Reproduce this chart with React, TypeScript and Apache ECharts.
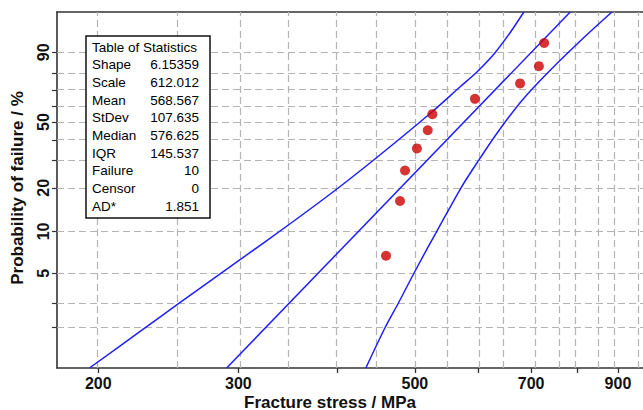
import React, { useEffect, useRef } from 'react';
import * as echarts from 'echarts';

// ---- data ----
const stressMPa = [460, 479, 486, 503, 519, 526, 595, 678, 716, 727];
const failurePct = [6.7, 16.3, 26.0, 35.6, 45.2, 54.8, 64.4, 74.0, 83.7, 93.3];

const fitStress = [290, 784];
const fitPct = [1, 99];

const upperStress = [195, 226.9, 251, 277.8, 301.2, 350.2, 399, 451.9, 525.3, 569.6, 598.4, 630.3, 658.3, 685.5];
const upperPct = [1, 1.91, 2.93, 4.47, 6.25, 11.57, 19.66, 32.49, 56.12, 71.82, 80.6, 89.71, 95.96, 99];

const lowerStress = [433.9, 458.5, 476.8, 495.1, 517, 532.2, 571.3, 598.4, 635.8, 682.6, 736.1, 814.4, 884.5];
const lowerPct = [1, 1.98, 3.03, 4.62, 7.37, 9.91, 19.96, 29.0, 44.22, 63.68, 80.6, 94.73, 99];

const xLabelValues = [200, 300, 500, 700, 900];
const xTickValues = [200, 300, 400, 500, 600, 700, 800, 900];
const xGridValues = [200, 250, 300, 350, 400, 450, 500, 550, 600, 650, 700, 750, 800, 850, 900, 950];
const yLabelValues = [5, 10, 20, 50, 90];
const yGridValues = [2, 3, 5, 10, 20, 30, 40, 50, 60, 70, 80, 90];

const xRange = [177.5, 967.7];
const yRange = [1, 99];

const statLabels = ['Shape', 'Scale', 'Mean', 'StDev', 'Median', 'IQR', 'Failure', 'Censor', 'AD*'];
const statValues = ['6.15359', '612.012', '568.567', '107.635', '576.625', '145.537', '10', '0', '1.851'];
const statTitle = 'Table of Statistics';

// ---- scale transforms (Weibull probability paper) ----
const lx = (v: number) => Math.log10(v);
const wy = (p: number) => Math.log(-Math.log(1 - p / 100));
const invX = (v: number) => Math.pow(10, v);
const invY = (v: number) => 100 * (1 - Math.exp(-Math.exp(v)));

const pts = (xs: number[], ps: number[]) => xs.map((x, i) => [lx(x), wy(ps[i])]);

const BLUE = '#1f1fff';
const FONT = '"Liberation Sans", Arial, sans-serif';

function buildOption() {
  const gridLine = { color: '#b4b4b4', width: 1.2, type: [7, 4] as number[] };
  const markData = [
    ...xGridValues.map((v) => ({ xAxis: lx(v) })),
    ...yGridValues.map((v) => ({ yAxis: wy(v) })),
  ];
  const rowY = (i: number) => 47 + i * 17.67;
  const txt = (text: string, x: number, y: number, right: boolean) => ({
    type: 'text',
    z: 101,
    style: {
      text, x, y, font: `13.5px ${FONT}`, fill: '#000',
      align: right ? 'right' : 'left', textAlign: right ? 'right' : 'left',
      verticalAlign: 'middle', textVerticalAlign: 'middle',
    },
  });
  const tableTexts: any[] = [txt(statTitle, 92, rowY(0), false)];
  statLabels.forEach((l, i) => {
    tableTexts.push(txt(l, 92, rowY(i + 1), false));
    tableTexts.push(txt(statValues[i], 199, rowY(i + 1), true));
  });

  return {
    animation: false,
    backgroundColor: '#ffffff',
    grid: { left: 57, right: 0, top: 12, bottom: 42 },
    xAxis: [
      {
        type: 'value',
        min: lx(xRange[0]),
        max: lx(xRange[1]),
        axisLine: { show: true, onZero: false, lineStyle: { color: '#333', width: 1.6 } },
        axisTick: { show: true, length: 5, customValues: xTickValues.map(lx), lineStyle: { color: '#333', width: 1.3 } },
        axisLabel: {
          show: true,
          customValues: xLabelValues.map(lx),
          formatter: (v: number) => String(Math.round(invX(v))),
          fontSize: 16,
          fontWeight: 'bold',
          fontFamily: FONT,
          color: '#111',
          margin: 7,
        },
        splitLine: { show: false },
      },
      {
        type: 'value',
        position: 'top',
        min: lx(xRange[0]),
        max: lx(xRange[1]),
        axisLine: { show: true, onZero: false, lineStyle: { color: '#333', width: 1.6 } },
        axisTick: { show: false },
        axisLabel: { show: false },
        splitLine: { show: false },
      },
    ],
    yAxis: {
      type: 'value',
      min: wy(yRange[0]),
      max: wy(yRange[1]),
      axisLine: { show: true, onZero: false, lineStyle: { color: '#333', width: 1.6 } },
      axisTick: { show: true, length: 5, customValues: yGridValues.map(wy), lineStyle: { color: '#333', width: 1.2 } },
      axisLabel: {
        show: true,
        customValues: yLabelValues.map(wy),
        formatter: (v: number) => String(Math.round(invY(v))),
        rotate: 90,
        fontSize: 16,
        fontWeight: 'bold',
        fontFamily: FONT,
        color: '#111',
        margin: 6,
      },
      splitLine: { show: false },
    },
    series: [
      {
        type: 'line',
        name: 'grid',
        data: [],
        silent: true,
        markLine: {
          silent: true,
          z: 1,
          symbol: ['none', 'none'],
          label: { show: false },
          lineStyle: gridLine,
          emphasis: { disabled: true },
          data: markData,
        },
      },
      {
        type: 'line',
        name: 'upper',
        data: pts(upperStress, upperPct),
        showSymbol: false,
        smooth: 0.3,
        lineStyle: { color: BLUE, width: 1.5 },
        z: 3,
      },
      {
        type: 'line',
        name: 'fit',
        data: pts(fitStress, fitPct),
        showSymbol: false,
        lineStyle: { color: BLUE, width: 1.5 },
        z: 3,
      },
      {
        type: 'line',
        name: 'lower',
        data: pts(lowerStress, lowerPct),
        showSymbol: false,
        smooth: 0.3,
        lineStyle: { color: BLUE, width: 1.5 },
        z: 3,
      },
      {
        type: 'scatter',
        name: 'data',
        data: pts(stressMPa, failurePct),
        symbol: 'circle',
        symbolSize: 10,
        itemStyle: { color: '#cc0000' },
        z: 4,
      },
    ],
    graphic: [
      {
        type: 'rect',
        z: 100,
        shape: { x: 86, y: 36, width: 124, height: 182 },
        style: { fill: '#fff', stroke: '#111', lineWidth: 1.5 },
      },
      ...tableTexts,
      {
        type: 'text',
        z: 100,
        x: 17,
        y: 188,
        rotation: Math.PI / 2,
        style: {
          text: 'Probability of failure / %', x: 0, y: 0, font: `bold 17px ${FONT}`, fill: '#111',
          align: 'center', textAlign: 'center', verticalAlign: 'middle', textVerticalAlign: 'middle',
        },
      },
      {
        type: 'text',
        z: 100,
        style: {
          text: 'Fracture stress / MPa', x: 330, y: 402, font: `bold 17px ${FONT}`, fill: '#111',
          align: 'center', textAlign: 'center', verticalAlign: 'middle', textVerticalAlign: 'middle',
        },
      },
    ],
  };
}

export default function App() {
  const ref = useRef<HTMLDivElement>(null);
  useEffect(() => {
    if (!ref.current) return;
    const chart = echarts.init(ref.current, null, { renderer: 'svg' });
    chart.setOption(buildOption() as any);
    return () => chart.dispose();
  }, []);
  return (
    <div
      ref={ref}
      style={{ position: 'absolute', left: 0, top: 0, width: 643, height: 410, background: '#fff' }}
    />
  );
}
